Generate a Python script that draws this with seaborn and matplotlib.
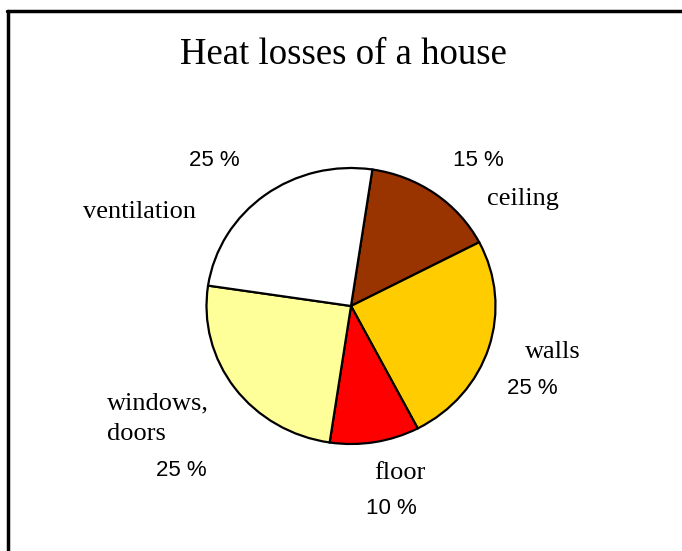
import matplotlib
matplotlib.use('Agg')
import matplotlib.pyplot as plt
import seaborn as sns
from matplotlib.lines import Line2D

# Heat losses of a house - shares in percent, clockwise from the top
categories = ["ceiling", "walls", "floor", "windows,\ndoors", "ventilation"]
shares = [15, 25, 10, 25, 25]
slice_colors = ["#993300", "#FFCC00", "#FF0000", "#FFFF99", "#FFFFFF"]
title = "Heat losses of a house"

W, H = 682, 551
sns.set_theme(style="white")
plt.rcParams['font.family'] = ['Liberation Serif', 'DejaVu Serif']

fig = plt.figure(figsize=(W / 100, H / 100), dpi=100)
fig.patch.set_facecolor('white')
ax = fig.add_axes([0, 0, 1, 1])

# pie is a bit squashed vertically in the original
rx, ry = 144.5, 138.0
ys = rx / ry
cx, cy = 351, 306

ax.pie(shares, colors=slice_colors, startangle=81.5, counterclock=False,
       radius=rx, center=(cx, (H - cy) * ys), frame=True,
       wedgeprops=dict(edgecolor='black', linewidth=1.6))
ax.set_aspect('auto')
ax.set_xlim(0, W)
ax.set_ylim(0, H * ys)
ax.axis('off')

def px(x, y):
    return x / W, 1 - y / H

# open frame: top and left edges only
fig.add_artist(Line2D([7 / W, 1], [1 - 10.5 / H, 1 - 10.5 / H], color='black', lw=2.5,
                      transform=fig.transFigure))
fig.add_artist(Line2D([8 / W, 8 / W], [0, 1 - 10.5 / H], color='black', lw=2.5,
                      transform=fig.transFigure))

fig.text(*px(343, 64), title, ha='center', va='baseline', fontsize=26.5, color='black')

# label anchors (left edge, baseline of first line) and percent centres
label_pos = {"ceiling": (487, 205), "walls": (525, 358), "floor": (374, 479),
             "windows,\ndoors": (107, 409), "ventilation": (83, 218)}
pct_pos = {"ceiling": (478, 160), "walls": (532, 389), "floor": (391, 509),
           "windows,\ndoors": (181, 471), "ventilation": (214, 160)}

for cat, val in zip(categories, shares):
    lx, ly = label_pos[cat]
    for i, line in enumerate(cat.split("\n")):
        fig.text(*px(lx, ly + i * 31), line, ha='left', va='baseline',
                 fontsize=19, color='black')
    tx, ty = pct_pos[cat]
    fig.text(*px(tx, ty), f"{val} %", ha='center', va='center', fontsize=16,
             family=['Liberation Sans', 'DejaVu Sans'], color='black')

fig.savefig('out.png', dpi=100)
